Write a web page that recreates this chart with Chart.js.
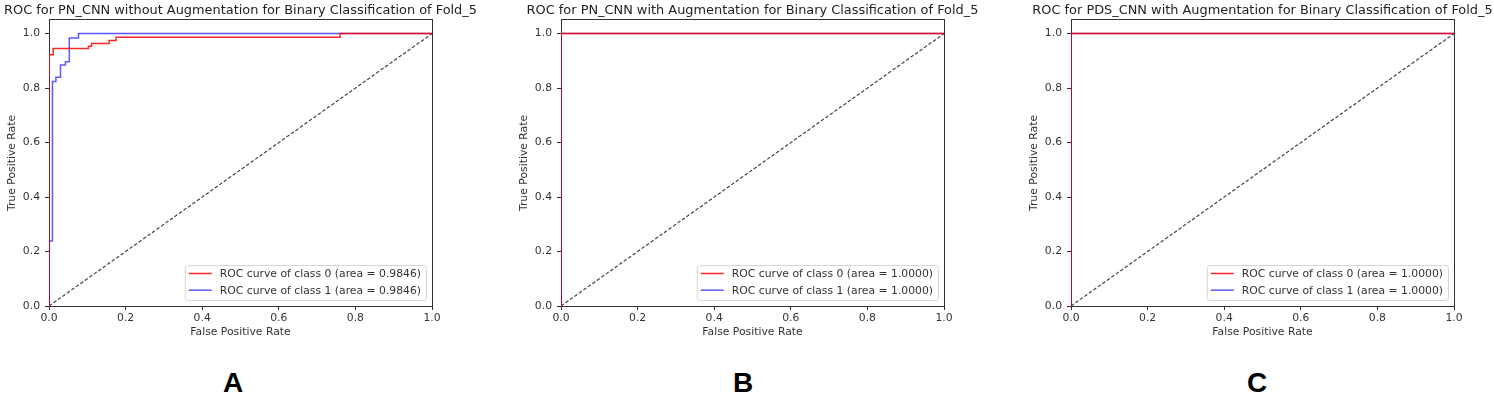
<!DOCTYPE html>
<html><head><meta charset="utf-8">
<script src="https://cdn.jsdelivr.net/npm/chart.js@4.4.1/dist/chart.umd.min.js"></script>
<style>
html,body{margin:0;padding:0;background:#fff;overflow:hidden}
#wrap{position:relative;width:1494px;height:399px;overflow:hidden;background:#fff}
canvas{position:absolute;top:0}
.lbl{position:absolute;font:bold 28px "Liberation Sans",Arial,sans-serif;color:#000;transform:translate(-50%,-50%);line-height:1}
</style></head><body>
<div id="wrap">
<canvas id="cA" width="481" height="345" style="left:0px;width:481px;height:345px"></canvas>
<canvas id="cB" width="481" height="345" style="left:512px;width:481px;height:345px"></canvas>
<canvas id="cC" width="481" height="345" style="left:1022px;width:481px;height:345px"></canvas>
<div class="lbl" style="left:233px;top:383px">A</div>
<div class="lbl" style="left:743px;top:383px">B</div>
<div class="lbl" style="left:1257px;top:383px">C</div>
</div>
<script>
// ---------- data ----------
const xTicks = [0.0, 0.2, 0.4, 0.6, 0.8, 1.0];
const yTicks = [0.0, 0.2, 0.4, 0.6, 0.8, 1.0];

const titleA = "ROC for PN_CNN without Augmentation for Binary Classification of Fold_5";
const titleB = "ROC for PN_CNN with Augmentation for Binary Classification of Fold_5";
const titleC = "ROC for PDS_CNN with Augmentation for Binary Classification of Fold_5";

// Panel A
const fprA0 = [0, 0, 0.011, 0.011, 0.103, 0.103, 0.111, 0.111, 0.157, 0.157, 0.175, 0.175, 0.76, 0.76, 1.0];
const tprA0 = [0, 0.922, 0.922, 0.945, 0.945, 0.954, 0.954, 0.964, 0.964, 0.975, 0.975, 0.987, 0.987, 1.0, 1.0];
const fprA1 = [0, 0, 0.009, 0.009, 0.018, 0.018, 0.030, 0.030, 0.043, 0.043, 0.053, 0.053, 0.077, 0.077, 1.0];
const tprA1 = [0, 0.239, 0.239, 0.824, 0.824, 0.840, 0.840, 0.885, 0.885, 0.897, 0.897, 0.984, 0.984, 1.0, 1.0];
const areaA = ["0.9846", "0.9846"];

// Panel B
const fprB0 = [0, 0, 1.0];
const tprB0 = [0, 1.0, 1.0];
const fprB1 = [0, 0, 1.0];
const tprB1 = [0, 1.0, 1.0];
const areaB = ["1.0000", "1.0000"];

// Panel C
const fprC0 = [0, 0, 1.0];
const tprC0 = [0, 1.0, 1.0];
const fprC1 = [0, 0, 1.0];
const tprC1 = [0, 1.0, 1.0];
const areaC = ["1.0000", "1.0000"];

// chance line
const diagX = [0, 1];
const diagY = [0, 1];

// ---------- helpers ----------
const FONT = '"DejaVu Sans", "Liberation Sans", sans-serif';
const SMALL = 10.8;
Chart.defaults.font.family = FONT;
Chart.defaults.color = '#333';

function pts(xs, ys) { return xs.map((x, i) => ({x: x, y: ys[i]})); }

const frameLegend = {
  id: 'frameLegend',
  afterDatasetsDraw(chart) {
    const ctx = chart.ctx, ca = chart.chartArea;
    const ds = chart.data.datasets.filter(d => d.label);
    ctx.save();
    ctx.font = SMALL + 'px ' + FONT;
    let tw = 0;
    ds.forEach(d => { tw = Math.max(tw, ctx.measureText(d.label).width); });
    const w = 4 + 23 + 8 + tw + 5, h = 35;
    const right = ca.right - 6, bottom = ca.bottom - 6;
    const left = right - w, top = bottom - h;
    ctx.beginPath();
    if (ctx.roundRect) ctx.roundRect(left + 0.5, top + 0.5, w, h, 3); else ctx.rect(left + 0.5, top + 0.5, w, h);
    ctx.fillStyle = 'rgba(255,255,255,0.85)';
    ctx.fill();
    ctx.strokeStyle = '#d6d6d6';
    ctx.lineWidth = 1;
    ctx.stroke();
    ds.forEach((d, i) => {
      const y = top + 8.5 + i * 16.7;
      ctx.beginPath();
      ctx.moveTo(left + 4, y);
      ctx.lineTo(left + 27, y);
      ctx.strokeStyle = d.borderColor;
      ctx.lineWidth = 1.5;
      ctx.stroke();
      ctx.fillStyle = '#333';
      ctx.textBaseline = 'middle';
      ctx.textAlign = 'left';
      ctx.fillText(d.label, left + 35, y + 0.5);
    });
    ctx.restore();
  }
};

function makeChart(id, title, f0, t0, f1, t1, areas) {
  const datasets = [
    {label: 'ROC curve of class 0 (area = ' + areas[0] + ')', data: pts(f0, t0),
     borderColor: 'rgba(255,0,0,0.85)', borderWidth: 1.5},
    {label: 'ROC curve of class 1 (area = ' + areas[1] + ')', data: pts(f1, t1),
     borderColor: 'rgba(0,0,255,0.65)', borderWidth: 1.5},
    {label: '', data: pts(diagX, diagY), borderColor: '#444', borderWidth: 1.2, borderDash: [3.5, 2]}
  ];
  datasets.forEach(d => { d.showLine = true; d.pointRadius = 0; d.fill = false; d.tension = 0; });
  return new Chart(document.getElementById(id), {
    type: 'scatter',
    data: {datasets: datasets},
    plugins: [frameLegend],
    options: {
      responsive: false,
      animation: false,
      layout: {padding: 0},
      plugins: {
        legend: {display: false},
        tooltip: {enabled: false},
        title: {display: true, text: title, color: '#222',
                font: {size: 12.9, weight: 'normal', family: FONT, lineHeight: 1.2},
                padding: {top: 2.5, bottom: 2.0}}
      },
      scales: {
        x: {
          type: 'linear', position: 'bottom', min: 0, max: 1,
          afterBuildTicks: s => { s.ticks = xTicks.map(v => ({value: v})); },
          afterFit: s => { s.height = 39; },
          ticks: {callback: v => Number(v).toFixed(1), font: {size: SMALL}, color: '#333', padding: 2, maxRotation: 0, autoSkip: false},
          grid: {display: true, drawOnChartArea: false, drawTicks: true, tickLength: 4, color: '#333'},
          border: {display: true, color: '#333', width: 1},
          title: {display: true, text: 'False Positive Rate', font: {size: SMALL}, color: '#333', padding: {top: 0, bottom: 6.5}}
        },
        y: {
          type: 'linear', position: 'left', min: 0, max: 1.05,
          afterBuildTicks: s => { s.ticks = yTicks.map(v => ({value: v})); },
          afterFit: s => { s.width = 49; },
          ticks: {callback: v => Number(v).toFixed(1), font: {size: SMALL}, color: '#333', padding: 5},
          grid: {display: true, drawOnChartArea: false, drawTicks: true, tickLength: 4, color: '#333'},
          border: {display: true, color: '#333', width: 1},
          title: {display: true, text: 'True Positive Rate', font: {size: SMALL}, color: '#333', padding: {top: 5.5, bottom: 0}}
        },
        x2: {
          type: 'linear', position: 'top', min: 0, max: 1,
          ticks: {display: false}, grid: {display: false},
          border: {display: true, color: '#333', width: 1},
          afterFit: s => { s.height = 0; }
        },
        y2: {
          type: 'linear', position: 'right', min: 0, max: 1.05,
          ticks: {display: false}, grid: {display: false},
          border: {display: true, color: '#333', width: 1},
          afterFit: s => { s.width = 49; }
        }
      }
    }
  });
}

makeChart('cA', titleA, fprA0, tprA0, fprA1, tprA1, areaA);
makeChart('cB', titleB, fprB0, tprB0, fprB1, tprB1, areaB);
makeChart('cC', titleC, fprC0, tprC0, fprC1, tprC1, areaC);
</script>
</body></html>
